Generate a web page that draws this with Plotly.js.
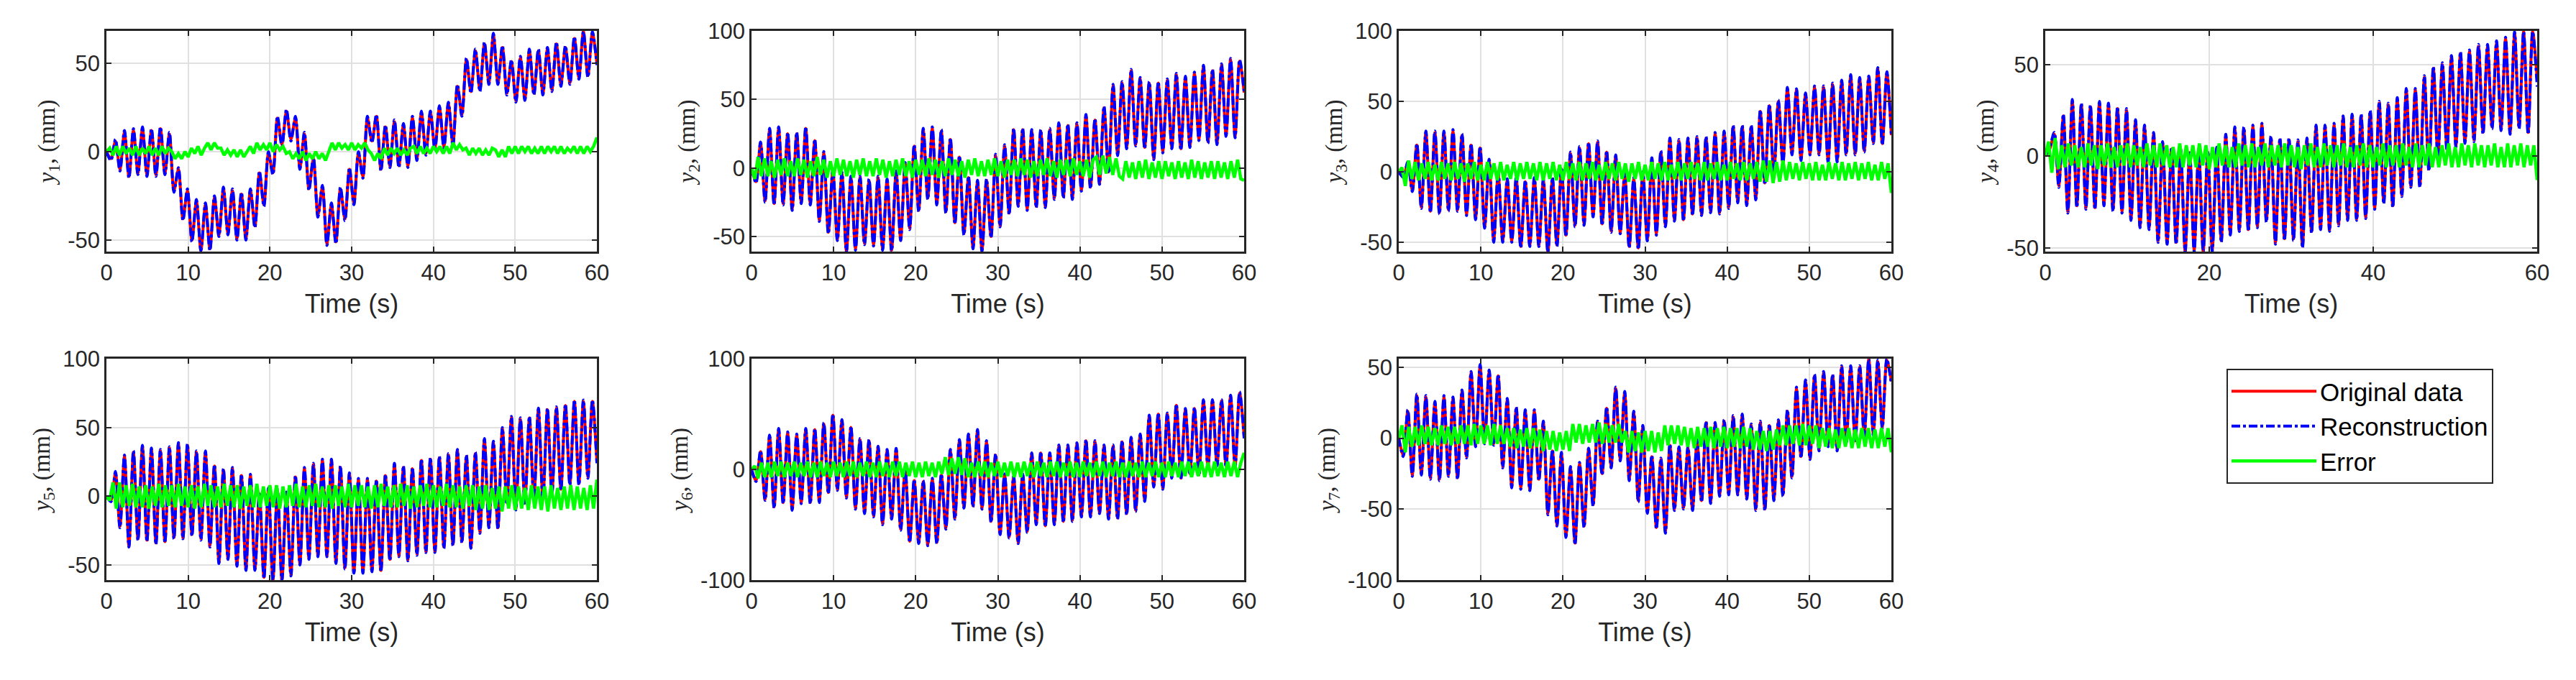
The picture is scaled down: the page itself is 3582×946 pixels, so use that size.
<!DOCTYPE html>
<html>
<head>
<meta charset="utf-8">
<script src="https://cdn.plot.ly/plotly-3.0.1.min.js"></script>
<style>
  html, body { margin: 0; padding: 0; background: #fff; }
  #chart { width: 3582px; height: 946px; }
</style>
</head>
<body>
<div id="chart"></div>
<script>
// signals y1..y7 in mm over 0-60 s at every peak and trough (~0.55 s apart)
let orig1 = [0,-4,6,-10,11,-14,12,-12,13,-13,12,-13,13,-12,10,-22,-10,-38,-22,-50,-28,-56,-30,-55,-26,-47,-21,-46,-22,-49,-24,-49,-22,-42,-12,-30,-1,-12,19,4,23,7,19,-9,10,-21,-4,-36,-20,-52,-30,-51,-21,-38,-10,-29,-1,-14,19,6,20,-10,14,-8,17,-8,15,-8,19,-4,22,-1,22,2,25,3,27,4,37,21,52,34,57,35,61,39,66,39,59,33,51,29,53,30,57,33,57,33,58,35,61,38,59,39,64,42,68,43,67,50];
let recon1 = [0,-5,7,-11,12,-15,13,-13,14,-14,13,-14,14,-13,11,-23,-9,-39,-21,-51,-27,-56,-29,-56,-25,-48,-20,-47,-21,-50,-23,-50,-21,-43,-11,-31,0,-13,20,3,24,6,20,-10,11,-22,-3,-37,-19,-53,-29,-52,-20,-39,-9,-30,0,-15,20,5,21,-11,15,-9,18,-9,16,-9,20,-5,23,-2,23,1,26,2,28,3,38,20,53,33,58,34,62,38,67,38,60,32,52,28,54,29,58,32,58,32,59,34,62,37,60,38,65,41,68,42,68,49];

let orig2 = [0,-10,18,-24,28,-26,29,-26,25,-30,25,-25,29,-26,20,-38,11,-47,-2,-52,-4,-61,-7,-59,-7,-55,-9,-56,-7,-59,-9,-60,-3,-52,3,-44,16,-31,28,-22,29,-26,27,-32,21,-40,8,-48,-7,-58,-10,-60,-9,-50,9,-42,16,-33,28,-27,28,-30,27,-28,27,-28,28,-22,32,-21,31,-22,32,-16,38,-14,35,-11,44,-3,60,10,62,15,71,17,65,15,62,7,62,12,64,15,68,14,66,16,69,21,74,19,71,18,75,24,79,23,78,55];
let recon2 = [0,-11,19,-25,29,-27,30,-27,26,-31,26,-26,30,-27,21,-39,12,-48,-1,-53,-3,-61,-6,-60,-6,-56,-8,-57,-6,-60,-8,-61,-2,-53,4,-45,17,-32,29,-23,30,-27,28,-33,22,-41,9,-49,-6,-59,-9,-61,-8,-51,10,-43,17,-34,29,-28,29,-31,28,-29,28,-29,29,-23,33,-22,32,-23,33,-17,39,-15,36,-12,45,-4,61,9,63,14,72,16,66,14,63,6,63,11,65,14,69,13,67,15,70,20,75,18,72,17,76,23,80,22,79,56];

let orig3 = [0,-3,6,-13,19,-25,28,-28,28,-29,28,-27,29,-27,26,-30,19,-33,17,-39,8,-49,-1,-49,-6,-49,-5,-53,-7,-52,-5,-52,-6,-57,-5,-52,2,-45,13,-38,17,-37,20,-31,21,-37,14,-42,11,-43,-2,-53,-5,-54,-1,-48,9,-44,14,-38,23,-34,22,-34,23,-30,24,-30,24,-28,27,-29,28,-25,32,-21,32,-23,32,-19,43,-8,47,-1,50,6,59,13,58,9,55,13,60,13,60,8,62,8,64,13,68,13,66,15,67,21,73,20,70,26];
let recon3 = [0,-4,7,-14,20,-26,29,-29,29,-30,29,-28,30,-28,27,-31,20,-34,18,-40,9,-50,0,-50,-5,-50,-4,-54,-6,-53,-4,-53,-5,-57,-4,-53,3,-46,14,-39,18,-38,21,-32,22,-38,15,-43,12,-44,-1,-54,-4,-55,0,-49,10,-45,15,-39,24,-35,23,-35,24,-31,25,-31,25,-29,28,-30,29,-26,33,-22,33,-24,33,-20,44,-9,48,-2,51,5,60,12,59,8,56,12,61,12,61,7,63,7,65,12,69,12,67,14,68,20,74,19,71,25];

let orig4 = [0,4,12,-16,22,-30,30,-27,28,-28,27,-28,29,-26,28,-29,26,-30,25,-34,19,-38,16,-39,12,-46,7,-47,4,-47,3,-52,2,-51,3,-52,2,-51,4,-46,11,-42,15,-40,15,-40,16,-38,17,-35,10,-47,9,-45,9,-45,8,-49,9,-41,16,-39,16,-40,17,-37,21,-34,22,-34,22,-33,24,-28,29,-25,28,-27,31,-21,36,-16,36,-16,43,-7,48,0,50,4,54,6,56,8,57,9,60,13,60,16,62,15,64,13,67,16,68,13,68,42];
let recon4 = [0,5,13,-17,23,-31,31,-28,29,-29,28,-29,30,-27,29,-30,27,-31,26,-35,20,-39,17,-40,13,-47,8,-48,5,-48,4,-52,3,-52,4,-52,3,-52,5,-47,12,-43,16,-41,16,-41,17,-39,18,-36,11,-48,10,-46,10,-46,9,-50,10,-42,17,-40,17,-41,18,-38,22,-35,23,-35,23,-34,25,-29,30,-26,29,-28,32,-22,37,-17,37,-17,44,-8,49,-1,51,3,55,5,57,7,58,8,61,12,61,15,63,14,65,12,68,15,68,12,68,38];

let orig5 = [0,-3,17,-22,29,-36,32,-31,36,-32,34,-34,33,-33,35,-30,38,-30,37,-28,32,-31,32,-36,22,-48,19,-45,20,-50,15,-53,15,-53,2,-59,5,-61,4,-61,2,-57,14,-49,20,-45,23,-43,26,-43,26,-48,21,-52,16,-55,12,-55,12,-54,11,-54,15,-46,23,-43,21,-46,20,-42,26,-40,27,-40,28,-37,30,-35,33,-33,29,-37,31,-26,41,-22,39,-23,49,-5,57,-9,56,-5,57,-2,63,-2,63,2,64,5,66,9,69,9,69,14,69,25];
let recon5 = [0,-4,18,-23,30,-37,33,-32,37,-33,35,-35,34,-34,36,-31,39,-31,38,-29,33,-32,33,-37,23,-49,20,-46,21,-51,16,-54,16,-54,3,-60,6,-61,5,-61,3,-58,15,-50,21,-46,24,-44,27,-44,27,-49,22,-53,17,-56,13,-56,13,-55,12,-55,16,-47,24,-44,22,-47,21,-43,27,-41,28,-41,29,-38,31,-36,34,-34,30,-38,32,-27,42,-23,40,-24,50,-6,58,-10,57,-6,58,-3,64,-3,64,1,65,4,67,8,70,8,70,13,70,24];

let orig6 = [0,-10,16,-27,30,-34,36,-30,33,-36,31,-30,36,-30,36,-29,41,-21,49,-18,44,-25,38,-35,27,-39,26,-42,20,-49,17,-44,18,-54,0,-65,-10,-66,-11,-68,-9,-66,-5,-53,17,-44,26,-34,31,-33,35,-35,25,-47,13,-58,-5,-61,-7,-66,-5,-56,14,-49,15,-51,14,-49,21,-47,21,-46,23,-42,26,-42,25,-39,21,-44,21,-44,25,-40,28,-37,31,-28,48,-15,50,-17,50,-7,58,-8,54,-4,55,-5,62,2,62,4,62,3,66,3,69,30];
let recon6 = [0,-11,17,-28,31,-35,37,-31,34,-37,32,-31,37,-31,37,-30,42,-22,50,-19,45,-26,39,-36,28,-40,27,-43,21,-50,18,-45,19,-55,1,-66,-9,-67,-10,-69,-8,-67,-4,-54,18,-45,27,-35,32,-34,36,-36,26,-48,14,-59,-4,-62,-6,-67,-4,-57,15,-50,16,-52,15,-50,22,-48,22,-47,24,-43,27,-43,26,-40,22,-45,22,-45,26,-41,29,-38,32,-29,49,-16,51,-18,51,-8,59,-9,55,-5,56,-6,63,1,63,3,63,2,67,2,70,28];

let orig7 = [0,-12,19,-26,30,-25,29,-28,25,-29,29,-26,28,-28,33,-13,46,-5,51,-3,47,-4,44,-20,27,-34,21,-35,19,-36,19,-29,11,-53,-9,-61,-11,-69,-21,-74,-18,-62,-8,-47,11,-25,21,-20,35,-15,32,-29,18,-44,8,-52,-13,-63,-15,-66,-5,-50,-7,-49,-7,-50,-2,-44,11,-45,10,-40,12,-39,15,-39,16,-42,9,-50,11,-50,9,-43,12,-40,19,-27,35,-13,40,-14,44,-8,46,-5,44,-8,50,-3,50,-2,50,2,56,3,54,8,55,40];
let recon7 = [0,-13,20,-27,31,-26,30,-29,26,-30,30,-27,29,-29,34,-14,47,-6,52,-4,48,-5,45,-21,28,-35,22,-36,20,-37,20,-30,12,-54,-8,-62,-10,-70,-20,-75,-17,-63,-7,-48,12,-26,22,-21,36,-16,33,-30,19,-45,9,-53,-12,-64,-14,-67,-4,-51,-6,-50,-6,-51,-1,-45,12,-46,11,-41,13,-40,16,-40,17,-43,10,-51,12,-51,10,-44,13,-41,20,-28,36,-14,41,-15,45,-9,47,-6,45,-9,51,-4,51,-3,51,1,56,2,55,7,56,38];

// reconstruction error (mm), read every 0.4 s
let err1 = [0,2,-2,3,-2,3,-1,2,-2,3,-2,2,-1,3,-2,2,-2,3,-1,2,0,-4,-1,-4,0,-3,2,-1,3,-2,2,5,1,5,2,2,-2,1,-2,1,-3,1,-3,0,3,-1,5,1,4,1,5,0,4,1,3,-1,0,-4,-1,-4,0,-5,-1,-4,0,-4,-1,-5,0,5,1,5,2,4,1,5,1,4,2,5,1,-1,-5,-1,-4,2,-2,2,-1,2,-2,1,-2,2,3,-1,3,-1,2,-1,3,0,3,-1,3,-1,5,1,4,1,2,-2,2,-1,2,-2,1,-2,2,1,-3,1,-3,3,-1,3,-1,3,0,3,-1,2,-1,3,-1,3,0,3,-1,3,-1,2,0,3,-1,3,-1,3,0,3,8];
let err2 = [0,-8,8,-6,7,-6,5,-7,6,-5,7,-6,5,-6,7,-5,6,-7,5,-6,8,-5,6,-7,5,-6,7,-5,6,-6,5,-7,6,-5,7,-6,5,-6,7,-5,6,-7,5,-6,6,-5,7,-6,5,-7,6,-5,6,-6,7,-5,6,-7,5,-6,7,-5,6,-6,5,-7,6,-5,7,-6,5,-6,6,-5,7,-6,5,-7,6,-5,6,-6,7,-5,6,-7,5,-6,6,-5,7,-6,5,-7,6,-5,6,-6,7,-5,5,-6,6,-7,6,8,-5,9,-4,8,-5,7,-6,-8,5,-7,4,-8,5,-7,6,-8,4,-7,5,-8,5,-6,4,-8,5,-7,4,-8,6,-7,5,-8,4,-7,5,-8,5,-7,4,-8,5,-7,6,-8,-9];
let err3 = [0,3,-10,8,-5,7,-6,6,-5,7,-6,5,-6,7,-5,6,-6,7,-5,6,-7,6,-5,7,-6,5,-6,7,-5,6,-6,7,-6,5,-5,7,-6,6,-5,7,-5,6,-6,7,-6,6,-5,7,-6,5,-6,7,-5,6,-6,7,-6,6,-5,7,-6,5,-6,7,-5,6,-6,7,-5,6,-7,6,-5,7,-6,5,-6,7,-5,6,-6,7,-6,5,-5,7,-6,6,-5,7,-5,6,-6,7,-6,6,-5,7,-6,5,-6,7,-5,6,-6,7,-6,6,-5,7,-7,8,-7,8,-8,7,-7,8,-6,7,-5,6,-6,7,-5,6,-6,7,-6,5,-6,7,-5,6,-6,7,-6,6,-5,7,-6,6,-5,7,-6,5,-6,7,-5,6,-15];
let err4 = [0,8,-9,10,-7,6,-6,7,-5,6,-6,5,-6,7,-5,6,-7,6,-5,7,-6,5,-6,6,-5,7,-6,6,-5,5,-6,7,-5,6,-6,7,-5,6,-6,5,-6,7,-6,6,-5,6,-6,7,-5,6,-7,5,-6,7,-5,6,-6,5,-6,7,-5,6,-6,7,-6,5,-5,7,-6,6,-5,6,-6,7,-5,6,-6,5,-7,6,-5,7,-6,5,-6,7,-5,6,-6,6,-5,7,-6,5,-6,6,-5,7,-6,6,-6,5,-5,7,-6,6,-5,6,-6,7,-5,5,-6,7,-6,6,-5,7,-6,5,-6,6,-5,7,-6,5,-6,7,-5,6,-6,7,-5,6,-6,6,-5,7,-6,5,-6,7,-6,6,-5,7,-6,6,-5,6,-13];
let err5 = [0,-3,10,-9,10,-8,8,-7,9,-8,7,-8,8,-9,7,-7,9,-8,8,-7,8,-8,9,-7,7,-8,8,-9,7,-8,9,-7,8,-8,7,-8,9,-7,8,-8,8,-9,7,-7,8,-8,9,-8,7,-7,8,-8,8,-9,7,-8,8,-7,9,-8,7,-8,8,-7,9,-8,7,-8,8,-9,8,-7,7,-8,9,-8,8,-7,8,-8,7,-9,8,-8,9,-7,7,-8,8,-8,9,-7,8,-9,7,-8,8,-7,9,-8,8,-8,7,-7,9,-8,8,-8,7,-9,8,-7,8,-10,7,-9,8,-10,6,-9,7,-11,7,-9,8,-10,7,-9,6,-10,8,-9,7,-10,7,-11,8,-9,6,-10,7,-9,8,-10,7,-9,6,-10,8,-9,12];
let err6 = [0,3,-8,6,-7,6,-7,7,-6,7,-7,6,-6,7,-7,6,-6,7,-7,6,-7,7,-6,6,-7,7,-6,6,-7,7,-6,7,-7,6,-6,7,-7,6,-7,7,-6,6,-7,7,-6,7,-7,6,-6,7,-7,6,-7,7,-6,6,-7,7,-4,11,-5,10,-4,11,-5,10,-7,6,-7,7,-6,7,-7,6,-6,7,-7,6,-6,7,-7,6,-7,7,-6,6,-7,7,-6,6,-7,7,-6,7,-7,6,-6,7,-7,6,-7,7,-6,6,-7,7,-6,7,-7,6,-6,7,-7,6,-7,7,-6,6,-7,7,-7,6,-6,7,-7,6,-7,7,-6,6,-7,7,-6,7,-7,6,-6,7,-7,6,-7,7,-6,6,-7,7,-6,7,-7,6,15];
let err7 = [0,9,-10,8,-6,8,-5,9,-4,8,-5,7,-5,9,-4,8,-5,8,-4,9,-4,9,-5,10,-4,9,-4,9,-5,10,-4,9,-4,7,-6,7,-7,6,-6,7,-7,7,-6,6,-9,5,-8,5,-9,4,-8,5,-9,10,-3,10,-4,9,-3,10,-3,11,-4,10,-3,9,-3,10,-3,5,-10,5,-9,4,-10,5,-9,5,-10,4,-9,9,-5,9,-4,9,-5,8,-6,7,-7,8,-6,7,-6,8,-7,7,-6,8,-7,7,-6,7,-7,8,-6,7,-8,5,-8,5,-9,5,-8,6,-5,9,-5,9,-4,9,-5,10,-5,9,-4,9,-7,7,-6,7,-7,6,-7,7,-6,7,-7,6,-7,7,-6,7,-7,6,-7,7,-6,7,-10];

// tick labels
let xTicks = [0, 10, 20, 30, 40, 50, 60];
let xTicksWide = [0, 20, 40, 60];
let yTicks1 = [-50, 0, 50];
let yTicks2 = [-50, 0, 50, 100];
let yTicks3 = [-50, 0, 50, 100];
let yTicks4 = [-50, 0, 50];
let yTicks5 = [-50, 0, 50, 100];
let yTicks6 = [-100, 0, 100];
let yTicks7 = [-100, -50, 0, 50];

// axis limits (axis tight in the original)
let yRange1 = [-56.5, 68.3];
let yRange2 = [-61, 100];
let yRange3 = [-56.6, 100];
let yRange4 = [-52, 68.4];
let yRange5 = [-61, 100];
let yRange6 = [-100, 100];
let yRange7 = [-100, 56];

let panels = [
  {orig: orig1, recon: recon1, err: err1, xt: xTicks, yt: yTicks1, yr: yRange1},
  {orig: orig2, recon: recon2, err: err2, xt: xTicks, yt: yTicks2, yr: yRange2},
  {orig: orig3, recon: recon3, err: err3, xt: xTicks, yt: yTicks3, yr: yRange3},
  {orig: orig4, recon: recon4, err: err4, xt: xTicksWide, yt: yTicks4, yr: yRange4},
  {orig: orig5, recon: recon5, err: err5, xt: xTicks, yt: yTicks5, yr: yRange5},
  {orig: orig6, recon: recon6, err: err6, xt: xTicks, yt: yTicks6, yr: yRange6},
  {orig: orig7, recon: recon7, err: err7, xt: xTicks, yt: yTicks7, yr: yRange7}
];

// page geometry in px
const W = 3582, H = 946;
const colLeft = [148, 1045, 1945, 2844];
const colRight = [830, 1730, 2630, 3528];
const rowTop = [43, 499];
const rowBottom = [350, 807];

// sample times spread evenly over the 60 s record
function timeAxis(n) {
  let t = [];
  for (let i = 0; i < n; i++) t.push(i * 60 / (n - 1));
  return t;
}

const ink = '#262626';
let data = [];
let layout = {
  width: W, height: H,
  margin: {l: 0, r: 0, t: 0, b: 0},
  paper_bgcolor: '#fff', plot_bgcolor: '#fff',
  font: {family: 'Liberation Sans, Arial, sans-serif', color: ink},
  showlegend: true,
  legend: {
    x: 3096 / W, y: 1 - 513 / H, xanchor: 'left', yanchor: 'top',
    bgcolor: '#fff', bordercolor: ink, borderwidth: 2,
    font: {size: 35, color: '#000'},
    itemwidth: 118, tracegroupgap: 0
  }
};

panels.forEach(function(p, k) {
  let n = k + 1;
  let xa = n === 1 ? 'x' : 'x' + n;
  let ya = n === 1 ? 'y' : 'y' + n;
  let first = k === 0;
  data.push({
    x: timeAxis(p.orig.length), y: p.orig, xaxis: xa, yaxis: ya,
    type: 'scatter', mode: 'lines', name: 'Original data', legendgroup: 'o', showlegend: first,
    line: {color: '#ff0000', width: 4, shape: 'spline', smoothing: 0.8}
  });
  data.push({
    x: timeAxis(p.recon.length), y: p.recon, xaxis: xa, yaxis: ya,
    type: 'scatter', mode: 'lines', name: 'Reconstruction', legendgroup: 'r', showlegend: first,
    line: {color: '#0000ff', width: 4, dash: 'dashdot', shape: 'spline', smoothing: 0.8}
  });
  data.push({
    x: timeAxis(p.err.length), y: p.err, xaxis: xa, yaxis: ya,
    type: 'scatter', mode: 'lines', name: 'Error', legendgroup: 'e', showlegend: first,
    line: {color: '#00ff00', width: 4.5}
  });

  let row = k < 4 ? 0 : 1;
  let col = k < 4 ? k : k - 4;
  let common = {
    showline: true, mirror: 'ticks', linecolor: ink, linewidth: 2.5,
    ticks: 'inside', ticklen: 7, tickwidth: 2, tickcolor: ink,
    showgrid: true, gridcolor: '#e0e0e0', gridwidth: 2, zeroline: false,
    tickfont: {family: 'Liberation Sans, Arial, sans-serif', size: 31, color: ink},
    fixedrange: true
  };
  layout['xaxis' + (n === 1 ? '' : n)] = Object.assign({}, common, {
    domain: [colLeft[col] / W, colRight[col] / W],
    anchor: ya, range: [0, 60],
    tickvals: p.xt, ticktext: p.xt.map(String),
    title: {text: 'Time (s)', font: {size: 36, color: ink}, standoff: 14}
  });
  layout['yaxis' + (n === 1 ? '' : n)] = Object.assign({}, common, {
    domain: [1 - rowBottom[row] / H, 1 - rowTop[row] / H],
    anchor: xa, range: p.yr,
    tickvals: p.yt, ticktext: p.yt.map(String),
    title: {
      text: '<i>y</i><sub>' + n + '</sub>, (mm)',
      font: {family: 'Liberation Serif, Times New Roman, serif', size: 33, color: ink},
      standoff: 8
    }
  });
});

Plotly.newPlot('chart', data, layout, {displayModeBar: false, responsive: false});
</script>
</body>
</html>
